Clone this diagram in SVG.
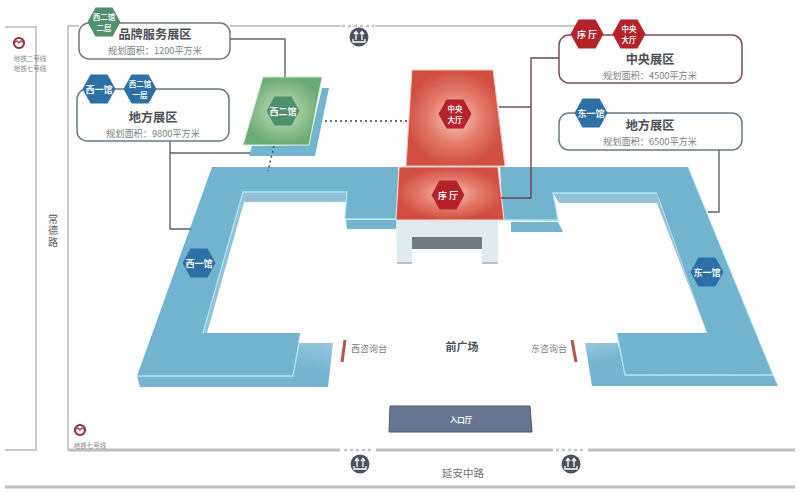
<svg xmlns="http://www.w3.org/2000/svg" width="800" height="500" viewBox="0 0 800 500">
<style>
text{font-family:"Noto Sans CJK SC","Noto Sans",sans-serif;text-anchor:middle}
.road{fill:none;stroke:#b9b9b9;stroke-width:1.5}
.roadb{fill:none;stroke:#bdbdbd;stroke-width:3}
.gate{fill:none;stroke:#c4c4c4;stroke-width:2.5;stroke-dasharray:3 3}
.hall{fill:#72b4d0}
.hall2{fill:#74b4d0}
.band{fill:#93c1d9}
.edge{fill:none;stroke:#a9e6f6;stroke-width:1.3}
.lnk{fill:none;stroke:#5d6468;stroke-width:1.4}
.lnkr{fill:none;stroke:#6a4658;stroke-width:1.4}
.dot{fill:none;stroke:#3f4a52;stroke-width:1.4;stroke-dasharray:2 3}
.box{fill:#fff;stroke-width:1.5}
.t{font-size:12.2px;font-weight:700;fill:#4c5056}
.s{font-size:9.2px;fill:#7d7f82}
.h{font-size:9px;font-weight:700;fill:#f4f6f6}
.h2{font-size:7.500px;font-weight:700;fill:#f4f6f6}
.lab{font-size:9px;fill:#7e8083}
.mt{font-size:6.500px;fill:#85878a}
.hb{fill:#2c70a5}
.hg{fill:#4f8f6c}
.hr{fill:#b52229}
.met{fill:#fff;stroke:#8c2f3f;stroke-width:2.2}
.wave{fill:none;stroke:#b0444f;stroke-width:1.4}
.exit{fill:#4b5160}
.arr{fill:none;stroke:#fff;stroke-width:1.3}
</style>
<defs>
<radialGradient id="rg"><stop offset="0" stop-color="#f5cbbc"/><stop offset=".55" stop-color="#e47a69"/><stop offset="1" stop-color="#d14e43"/></radialGradient>
<radialGradient id="gg"><stop offset="0" stop-color="#c9e2cb"/><stop offset=".6" stop-color="#8dc08f"/><stop offset="1" stop-color="#6dab75"/></radialGradient>
<linearGradient id="sw" x1="0" y1="1" x2="1" y2="0"><stop offset=".65" stop-color="#74b4d0"/><stop offset="1" stop-color="#9ac6dc"/></linearGradient>
<linearGradient id="se" x1="1" y1="1" x2="0" y2="0"><stop offset=".75" stop-color="#74b4d0"/><stop offset="1" stop-color="#9cc7dd"/></linearGradient>
<polygon id="hex" points="-16.5,0 -8.5,-14.5 8.5,-14.5 16.5,0 8.5,14.5 -8.5,14.5"/>
<g id="exit-mark"><path class="arr" d="M-3 3V-5M-5 -3L-3 -5.500L-1 -3M3 3V-5M1 -3L3 -5.500L5 -3M-6 2V5H6V2"/></g>
</defs>
<rect width="800" height="500" fill="#fff"/>

<g id="roads">
<path class="road" d="M5 27H36V450H5"/>
<path class="road" d="M79 26H68V450"/>
<path class="road" d="M230 26H341M375 26H575"/>
<path class="gate" d="M342 26H374"/>
<path class="roadb" d="M68 450H340M376 450H553M588 450H795"/>
<path class="gate" d="M344 450H374M556 450H586"/>
<path class="roadb" d="M5 487H795"/>
</g>

<g id="west-hall-1">
<polygon fill="url(#sw)" points="140,387 328,387 333,343 299,343 293,376 137,376"/>
<polygon class="band" points="243,192 347,192 346,202 244,202 207,333 300,333 298,343 206,343 203,333"/>
<polygon class="hall" points="212,167 398,167 398,219 345,219 347,192 243,192 203,333 300,333 293,376 137,376"/>
<polygon class="hall2" points="346,220 398,220 398,229 347,229"/>
<path class="edge" d="M203 333L243 192H347L345 219H397"/>
<path class="edge" d="M137 376H293L299 343"/>
</g>

<g id="east-hall-1">
<polygon fill="url(#se)" points="592,386 778,386 773,375 625,376 618,343 585,343"/>
<polygon class="band" points="553,193 657,193 660,203 707,333 710,343 619,343 617,333 707,333 657,203 559,203"/>
<polygon class="hall" points="500,167 688,167 773,375 625,376 617,333 707,333 657,193 553,193 558,221 503,220"/>
<polygon class="hall2" points="511,222 558,222 563,232 511,232"/>
<path class="edge" d="M503 220H558L553 193H657"/>
<path class="edge" d="M773 375H625L617 333"/>
<path class="edge" d="M688 167L773 375" opacity=".5"/>
</g>

<g id="west-hall-2">
<polygon class="hall2" points="322,88 329,88 315,156 249,156 252,146 309,145"/>
<polygon points="263,77 322,77 309,145 243,145" fill="url(#gg)" stroke="#c8ecd0" stroke-width="1"/>
<use href="#hex" x="283" y="111" class="hg"/>
<text class="h" x="283" y="115">西二馆</text>
</g>

<g id="central-hall">
<polygon points="412,70 493,70 505,166 406,166" fill="url(#rg)" stroke="#f5c9bd" stroke-width="1"/>
<use href="#hex" x="455" y="114" class="hr"/>
<text class="h2" x="455" y="111.500">中央</text>
<text class="h2" x="455" y="122.500">大厅</text>
</g>

<g id="lobby">
<polygon points="396,220 498,220 498,263 482,263 482,237 412,237 412,263 397,263" fill="#e0ebf0"/>
<rect x="412" y="237" width="70" height="12" fill="#6f7a82"/>
<path d="M397 263H412M482 263H498" stroke="#a9aeb1" stroke-width="1.5"/>
<polygon points="399,167 498,167 504,220 396,220" fill="url(#rg)" stroke="#f7d3c8" stroke-width="1.2"/>
<use href="#hex" x="448" y="195" class="hr"/>
<text class="h" x="448" y="199">序 厅</text>
</g>

<g id="connectors">
<path class="lnk" d="M230 39H285V77"/>
<path class="lnk" d="M170 141V229H191"/>
<path class="lnk" d="M170 153H250"/>
<path class="lnkr" d="M559 58H531V198H501"/>
<path class="lnkr" d="M499 107H531"/>
<path class="lnk" d="M719 150V212H708"/>
<path class="dot" d="M325 121H408"/>
<path class="dot" d="M274 146L268 171"/>
</g>

<g id="hex-west1"><use href="#hex" x="199" y="263" class="hb"/><text class="h" x="199" y="267">西一馆</text></g>
<g id="hex-east1"><use href="#hex" x="707" y="272" class="hb"/><text class="h" x="707" y="276">东一馆</text></g>

<g id="panel-brand">
<rect class="box" x="79" y="23" width="151" height="36" rx="10" stroke="#6f7c78"/>
<use href="#hex" x="104" y="22" class="hg"/>
<text class="h2" x="104" y="19.500">西二馆</text>
<text class="h2" x="104" y="30.500">二层</text>
<text class="t" x="155" y="39">品牌服务展区</text>
<text class="s" x="155" y="54">规划面积：1200平方米</text>
</g>

<g id="panel-west">
<rect class="box" x="77" y="89" width="152" height="52" rx="10" stroke="#687a84"/>
<use href="#hex" x="99" y="89" class="hb"/>
<text class="h" x="99" y="93">西一馆</text>
<use href="#hex" x="140" y="89" class="hb"/>
<text class="h2" x="140" y="86.500">西二馆</text>
<text class="h2" x="140" y="97.500">一层</text>
<text class="t" x="153" y="121.500">地方展区</text>
<text class="s" x="153" y="136.500">规划面积：9800平方米</text>
</g>

<g id="panel-central">
<rect class="box" x="559" y="35" width="183" height="48" rx="10" stroke="#7c4a58"/>
<use href="#hex" x="587" y="34" class="hr"/>
<text class="h" x="587" y="38">序 厅</text>
<use href="#hex" x="629" y="34" class="hr"/>
<text class="h2" x="629" y="31.500">中央</text>
<text class="h2" x="629" y="42.500">大厅</text>
<text class="t" x="650" y="64">中央展区</text>
<text class="s" x="650" y="79">规划面积：4500平方米</text>
</g>

<g id="panel-east">
<rect class="box" x="559" y="113" width="183" height="37" rx="10" stroke="#687a84"/>
<use href="#hex" x="591" y="113" class="hb"/>
<text class="h" x="591" y="117">东一馆</text>
<text class="t" x="650" y="130">地方展区</text>
<text class="s" x="650" y="145">规划面积：6500平方米</text>
</g>

<g id="west-desk">
<path d="M345 340L342 362" stroke="#b5544a" stroke-width="3"/>
<text class="lab" x="369" y="352">西咨询台</text>
</g>
<g id="east-desk">
<path d="M572 340L576 362" stroke="#b5544a" stroke-width="3"/>
<text class="lab" x="549" y="352">东咨询台</text>
</g>
<g id="plaza"><text x="462" y="351" font-size="11" font-weight="700" fill="#4c5056">前广场</text></g>

<g id="entrance">
<polygon points="390,406 530,406 532,432 389,432" fill="#687790" stroke="#4d5666" stroke-width="1"/>
<text class="h2" x="461" y="423">入口厅</text>
</g>

<g id="metro-1">
<circle class="met" cx="19" cy="43" r="5"/>
<path class="wave" d="M14 43L17 41L19 43L21 41L24 43"/>
<text class="mt" x="30" y="61">地铁二号线</text>
<text class="mt" x="30" y="70.500">地铁七号线</text>
</g>
<g id="metro-2">
<circle class="met" cx="80" cy="430" r="5"/>
<path class="wave" d="M75 430L78 428L80 430L82 428L85 430"/>
<text class="mt" x="90" y="448">地铁七号线</text>
</g>

<g id="exit-top"><circle class="exit" cx="359" cy="37" r="9.500"/><use href="#exit-mark" x="359" y="37"/></g>
<g id="exit-left"><circle class="exit" cx="360" cy="464" r="9.500"/><use href="#exit-mark" x="360" y="464"/></g>
<g id="exit-right"><circle class="exit" cx="571" cy="464" r="9.500"/><use href="#exit-mark" x="571" y="464"/></g>

<g id="road-labels">
<text x="463" y="477" font-size="10.500" fill="#6f7174">延安中路</text>
<text x="53" y="231" font-size="10" letter-spacing="1.500" fill="#5f6164" style="writing-mode:vertical-rl">常德路</text>
</g>
</svg>
